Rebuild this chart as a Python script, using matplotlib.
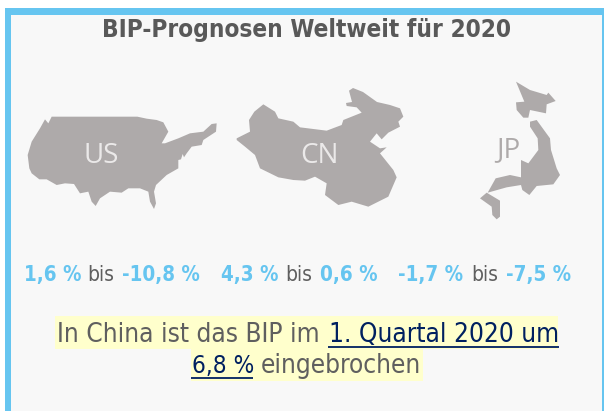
import matplotlib
matplotlib.use("Agg")
import matplotlib.pyplot as plt
import matplotlib.patches as patches

us_outline = [(155,110),(412,110),(440,116),(470,120),(490,127),(505,155),(485,190),(495,190),(535,175),(570,160),
              (610,155),(635,132),(650,130),(648,155),(610,180),(605,195),(575,200),(560,220),(552,232),(548,222),
              (543,238),(535,240),(535,265),(500,285),(468,315),(462,335),(468,370),(462,387),(450,365),(445,335),
              (420,325),(385,325),(365,338),(330,335),(300,355),(287,378),(275,365),(265,335),(240,340),(222,312),
              (195,310),(170,315),(140,298),(118,298),(95,280),(88,265),(83,225),(95,185),(120,145),(135,118),(145,130)]
cn_outline = [(35,145),(75,125),(72,90),(88,65),(115,43),(150,65),(160,85),(205,95),(225,112),(305,122),(350,105),
              (355,90),(410,68),(395,52),(365,48),(363,39),(381,36),(372,2),(384,-6),(414,6),(456,36),(495,45),
              (525,55),(535,80),(520,95),(525,110),(490,128),(470,148),(455,130),(435,155),(465,175),(485,172),
              (465,190),(505,240),(515,262),(490,320),(430,350),(380,335),(340,345),(300,315),(305,280),(270,260),
              (240,272),(205,270),(160,262),(105,235),(90,195),(60,170),(35,150)]
jp_north = [(153,35),(195,60),(245,75),(250,68),(272,93),(245,103),(243,130),(195,120),(190,143),(175,143),
            (155,120),(153,97),(178,95)]
jp_main = [(195,155),(215,150),(255,205),(258,240),(275,295),(285,315),(265,343),(215,348),(193,375),(172,360),
           (168,345),(125,352),(68,368),(92,325),(135,315),(168,322),(168,270),(190,280),(220,240),(218,205),(195,170)]
jp_south = [(45,385),(65,368),(105,392),(105,440),(95,448),(82,435),(80,410)]

countries = ["US", "CN", "JP"]
low_high = [("1,6 %", "-10,8 %"), ("4,3 %", "0,6 %"), ("-1,7 %", "-7,5 %")]

title = "BIP-Prognosen Weltweit für 2020"
line1 = "In China ist das BIP im "
link1 = "1. Quartal 2020 um"
link2 = "6,8 %"
line2 = "eingebrochen"

blue = "#66c5f0"
grey = "#5f5f5f"
navy = "#002060"
map_grey = "#aeaaaa"
yellow = "#ffffcc"

fig = plt.figure(figsize=(6.04, 4.11), dpi=100)
ax = fig.add_axes([0, 0, 1, 1])
ax.set_xlim(0, 604)
ax.set_ylim(411, 0)
ax.axis("off")

# panel and its frame
ax.add_patch(patches.Rectangle((5, 8), 599, 403, color=blue, lw=0))
ax.add_patch(patches.Rectangle((11, 15), 591, 396, color="#f8f8f8", lw=0))


def shape(points, ox, oy):
    pts = [(ox + x / 3, oy + y / 3) for x, y in points]
    ax.add_patch(patches.Polygon(pts, closed=True, color=map_grey, lw=0))


shape(us_outline, 0, 80)
shape(cn_outline, 225, 90)
shape(jp_north, 465, 70)
shape(jp_main, 465, 70)
shape(jp_south, 465, 70)

label_font = dict(family="Open Sans", fontsize=20, ha="center", va="baseline")
ax.text(101, 163, countries[0], color="#ebe9e9", **label_font)
ax.text(319, 163, countries[1], color="#ebe9e9", **label_font)
ax.text(508, 157, countries[2], color=map_grey, **label_font)

body = dict(family="DejaVu Sans", stretch="condensed", va="baseline")

ax.text(307, 36.5, title, color="#595959", fontsize=17.5, fontweight="bold", ha="center", **body)

# forecast ranges, one row
range_x = [(24, 87, 122), (221, 285, 320), (398, 471, 506)]
for (a, b), (x1, x2, x3) in zip(low_high, range_x):
    ax.text(x1, 281, a, color=blue, fontsize=14.8, fontweight="bold", **body)
    ax.text(x2, 281, "bis", color=grey, fontsize=15, **body)
    ax.text(x3, 281, b, color=blue, fontsize=14.8, fontweight="bold", **body)

# highlighted sentence
ax.add_patch(patches.Rectangle((55, 316), 503, 33, color=yellow, lw=0))
ax.add_patch(patches.Rectangle((191, 349), 232, 32, color=yellow, lw=0))
ax.text(57, 342, line1, color=grey, fontsize=18.8, **body)
ax.text(329, 342, link1, color=navy, fontsize=18.8, **body)
ax.text(192, 373, link2, color=navy, fontsize=17.5, **body)
ax.text(261, 373, line2, color=grey, fontsize=18.8, **body)
ax.plot([328, 559], [346.5, 346.5], color=navy, lw=1.3, solid_capstyle="butt")
ax.plot([191, 253], [377.5, 377.5], color=navy, lw=1.3, solid_capstyle="butt")

plt.savefig("out.png", dpi=100)
